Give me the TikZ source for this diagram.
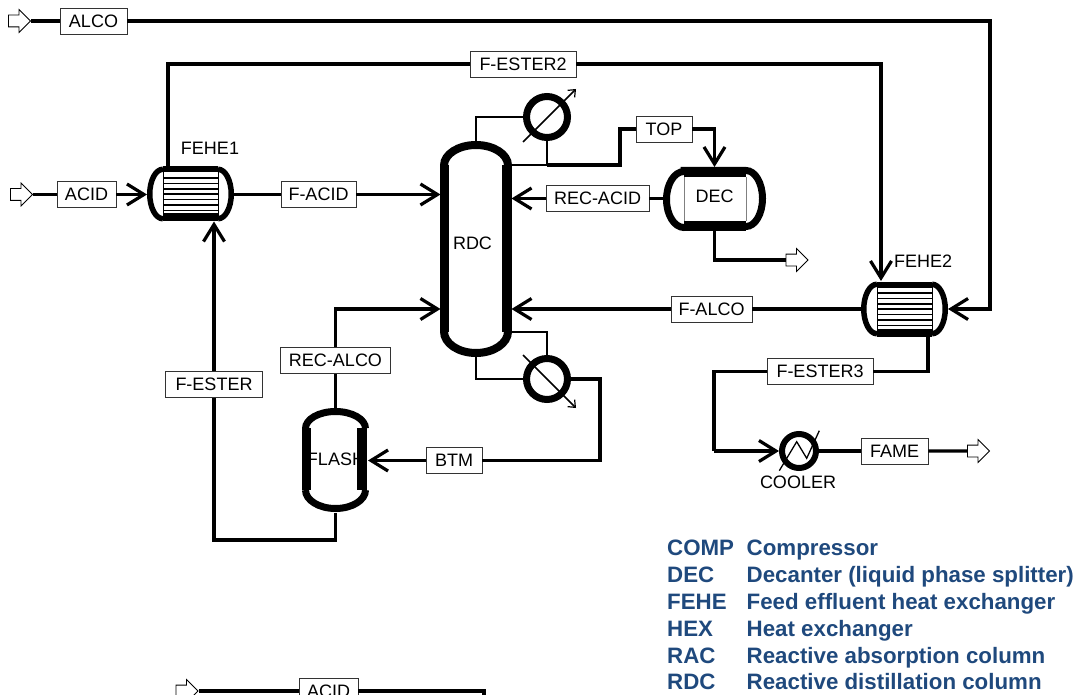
\documentclass[tikz,border=0pt]{standalone}
\usepackage{fontspec}
\setmainfont{Liberation Sans}
\usetikzlibrary{arrows.meta,shapes.arrows,calc}
\definecolor{legendblue}{HTML}{1F497D}
\tikzset{
  pipe/.style={line width=3.2pt,draw=black,line join=miter},
  thinpipe/.style={line width=1.5pt,draw=black},
  flow/.style={pipe,-{Straight Barb[length=17pt,width=21pt,line width=3.2pt]}},
  tag/.style={draw=black!80,fill=white,line width=.7pt,inner sep=0pt,minimum height=26pt,font=\fontsize{18}{20}\selectfont},
  caption/.style={inner sep=0pt,font=\fontsize{18}{20}\selectfont},
  feed/.style={single arrow,draw=black,fill=white,line width=.8pt,inner sep=0pt,minimum height=22pt,text height=11pt,text depth=0pt,text width=1pt,single arrow head extend=5.5pt,single arrow tip angle=90},
  hole/.style={inner sep=0pt,outer sep=0pt},
  legend/.style={inner sep=0pt,anchor=base west,text=legendblue,font=\fontsize{22.3}{26}\bfseries\selectfont},
  exchpic/.pic={
    \fill[white] (-27.5,-26) rectangle (27.5,26);
    \foreach \yy in {-16,-10.5,-5,0,5.5,11,16.5} \draw[line width=1.2pt] (-27.5,\yy) -- (27.5,\yy);
    \draw[line width=.8pt] (-27.5,-26) -- (-27.5,26) (27.5,-26) -- (27.5,26);
    \fill (-27.5,-27.5) rectangle (27.5,-21.5);
    \fill (-27.5,19.5) rectangle (27.5,27.5);
    \draw[line width=5.5pt] (-27.5,-24.75) arc[start angle=-90,end angle=-270,x radius=13.25,y radius=24.75];
    \draw[line width=5.5pt] (27.5,-24.75) arc[start angle=-90,end angle=90,x radius=13.25,y radius=24.75];
  }
}
\begin{document}
\begin{tikzpicture}[x=1pt,y=-1pt]
\useasboundingbox (0,0) rectangle (1084,695);
\clip (0,0) rectangle (1084,695);
% feeds and products
\node[feed] (alcofeed) at (16.5,21) {};
\node[feed] (acidfeed) at (18.5,194.5) {};
\node[feed] (decout) at (794,260) {};
\node[feed] (fameout) at (975.5,451) {};
\node[feed] (acidfeedb) at (184,691) {};
% invisible equipment footprints
\node[hole,minimum width=87pt,minimum height=55pt] (fehe1) at (190.5,194) {};
\node[hole,minimum width=87pt,minimum height=56pt] (fehe2) at (904.5,309) {};
\node[hole,minimum width=71pt,minimum height=216pt] (rdc) at (476,249) {};
\node[hole,minimum width=103pt,minimum height=64pt] (dec) at (714.5,199) {};
\node[hole,minimum width=65pt,minimum height=105pt] (flash) at (335.5,460) {};
\node[hole,circle,minimum size=48pt] (cond) at (547,117) {};
\node[hole,circle,minimum size=48pt] (reb) at (547,379) {};
\node[hole,circle,minimum size=40pt] (cooler) at (799,451) {};
% bends
\coordinate (topa) at (620,165);
\coordinate (topb) at (620,129);
\coordinate (alcoc) at (990,21);
\coordinate (e2a) at (168,64);
\coordinate (e2b) at (881,64);
\coordinate (e2start) at (168,167);
\coordinate (e2end) at (881,281);
\coordinate (condj) at (547,165);
\coordinate (rdcshoulder) at (511,165);
\coordinate (rdclow) at (511,332);
\coordinate (rebj) at (547,332);
\coordinate (recc) at (335.5,309);
\coordinate (btmc) at (600,379);
\coordinate (btmd) at (600,460.5);
\coordinate (festa) at (335.5,540);
\coordinate (festb) at (214,540);
\coordinate (e3a) at (928,337);
\coordinate (e3b) at (928,371.5);
\coordinate (e3c) at (714,371.5);
\coordinate (e3d) at (714,451);
\coordinate (botc) at (484,691);
\coordinate (botd) at (484,700);
% tags
\node[tag,minimum width=67pt] (alco) at (93.5,21) {ALCO};
\node[tag,minimum width=106pt] (fester2) at (523,64) {F-ESTER2};
\node[tag,minimum width=59pt] (acid) at (86.5,194.5) {ACID};
\node[tag,minimum width=75pt] (facid) at (318.5,194.5) {F-ACID};
\node[tag,minimum width=56pt] (top) at (664,129) {TOP};
\node[tag,minimum width=103pt] (recacid) at (597.5,198.5) {REC-ACID};
\node[tag,minimum width=81pt] (falco) at (711.5,309) {F-ALCO};
\node[tag,minimum width=110pt] (recalco) at (335.5,360.5) {REC-ALCO};
\node[tag,minimum width=97pt] (fester) at (214,384.5) {F-ESTER};
\node[tag,minimum width=56pt] (btm) at (454,460.5) {BTM};
\node[tag,minimum width=106pt] (fester3) at (820,371.5) {F-ESTER3};
\node[tag,minimum width=67pt] (fame) at (894.5,451) {FAME};
\node[tag,minimum width=59pt] (acidb) at (328.5,691) {ACID};
% pipes
\draw[pipe] (alcofeed.tip) -- (alco);
\draw[flow] (alco) -- (alcoc) |- (fehe2.east);
\draw[pipe] (e2start) -- (e2a) -- (fester2);
\draw[flow] (fester2) -- (e2b) -- (e2end);
\draw[pipe] (acidfeed.tip) -- (acid);
\draw[flow] (acid) -- (fehe1.west |- acid);
\draw[pipe] (fehe1.east |- facid) -- (facid);
\draw[flow] (facid) -- (rdc.west |- facid);
\draw[thinpipe] (rdc.north) |- (cond.west);
\draw[thinpipe] (cond.south) -- (condj) -- (rdcshoulder);
\draw[pipe] (condj) -- (topa) -- (topb) -- (top);
\draw[flow] (top) -| (dec.north);
\draw[pipe] (dec.west |- recacid) -- (recacid);
\draw[flow] (recacid) -- (rdc.east |- recacid);
\draw[pipe] (dec.south) |- (decout.west);
\draw[pipe] (fehe2.west) -- (falco);
\draw[flow] (falco) -- (rdc.east |- falco);
\draw[thinpipe] (rdclow) -- (rebj) -- (reb.north);
\draw[thinpipe] (rdc.south) |- (reb.west);
\draw[pipe] (reb.east) -- (btmc) -- (btmd) -- (btm);
\draw[flow] (btm) -- (flash.east |- btm);
\draw[pipe] (flash.north) -- (recalco);
\draw[flow] (recalco) -- (recc) -- (rdc.west |- recc);
\draw[pipe] (flash.south) -- (festa) -- (festb) -- (fester);
\draw[flow] (fester) -- (fehe1.south -| fester);
\draw[pipe] (e3a) -- (e3b) -- (fester3);
\draw[pipe] (fester3) -- (e3c) -- (e3d);
\draw[flow] (e3d) -- (cooler.west);
\draw[pipe] (cooler.east) -- (fame);
\draw[pipe] (fame) -- (fameout.west);
\draw[pipe] (acidfeedb.tip) -- (acidb);
\draw[pipe] (acidb) -- (botc) -- (botd);
% exchangers
\pic at (fehe1) {exchpic};
\pic at (fehe2) {exchpic};
% RDC
\draw[line width=8pt] (444,165.5) arc[start angle=180,end angle=360,x radius=32,y radius=20.5];
\draw[line width=8pt] (444,331.5) arc[start angle=180,end angle=0,x radius=32,y radius=21.5];
\fill (440,165) rectangle (448.5,332);
\fill (502,165) rectangle (511.5,332);
\node[caption] (rdclabel) at (472.5,243) {RDC};
% DEC
\draw[line width=7pt] (684,170.5) -- (746,170.5) arc[start angle=-90,end angle=90,x radius=16.5,y radius=28] -- (684,227.5) arc[start angle=90,end angle=270,x radius=17.5,y radius=28] -- cycle;
\fill (684,167) rectangle (746,177);
\fill (684,221) rectangle (746,231);
\draw[line width=.5pt,black!50] (684,177) -- (684,221) (746,177) -- (746,221);
\node[caption] (declabel) at (714.5,196) {DEC};
% FLASH
\node[caption] (flashlabel) at (336,459) {FLASH};
\draw[line width=7pt] (305.5,428.5) arc[start angle=180,end angle=360,x radius=30,y radius=17];
\draw[line width=7pt] (305.5,490) arc[start angle=180,end angle=0,x radius=30,y radius=18.5];
\fill (302,428) rectangle (311,490);
\fill (357,428) rectangle (366.5,490);
% condenser, reboiler, cooler
\draw[line width=7pt] (cond) circle[radius=20.5];
\draw[line width=1.5pt,-{Straight Barb[length=6pt,width=10pt,line width=1.2pt]}] (523,142) -- (576,89);
\draw[line width=7pt] (reb) circle[radius=20.5];
\draw[line width=1.5pt,-{Straight Barb[length=6pt,width=10pt,line width=1.2pt]}] (523,355) -- (576,408);
\draw[line width=6pt] (cooler) circle[radius=17];
\draw[line width=1.3pt] (779.3,470.7) -- (796.7,441.7) -- (806.7,458.3) -- (819.3,430.7);
% captions
\node[caption] (fehe1label) at (210,148) {FEHE1};
\node[caption] (fehe2label) at (923,261) {FEHE2};
\node[caption] (coolerlabel) at (798,482.5) {COOLER};
% legend
\foreach \yy/\aa/\bb in {555/COMP/Compressor,582/DEC/Decanter (liquid phase splitter),609/FEHE/Feed effluent heat exchanger,636/HEX/Heat exchanger,663/RAC/Reactive absorption column,689/RDC/Reactive distillation column}{
  \node[legend] at (667,\yy) {\aa};
  \node[legend] at (746.5,\yy) {\bb};
}
\end{tikzpicture}
\end{document}
